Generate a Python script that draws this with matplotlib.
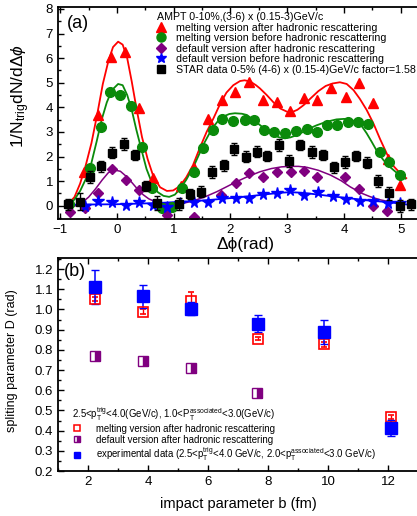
import matplotlib
matplotlib.use("Agg")
import matplotlib.pyplot as plt
from matplotlib.lines import Line2D
from matplotlib.ticker import MultipleLocator

plt.rcParams["font.family"] = ["Liberation Sans", "DejaVu Sans"]
plt.rcParams["mathtext.fontset"] = "custom"
plt.rcParams["mathtext.rm"] = "Liberation Sans"
plt.rcParams["mathtext.it"] = "Liberation Sans:italic"
plt.rcParams["mathtext.fallback"] = "stixsans"

# ---------------------------------------------------------------------------
# (a) dihadron correlations
# ---------------------------------------------------------------------------
melt_after_x = [-0.59, -0.33, -0.11, 0.14, 0.38, 0.63, 1.12, 1.35, 1.60, 1.85, 2.08, 2.33,
                2.58, 2.82, 3.05, 3.30, 3.53, 3.78, 4.03, 4.27, 4.52, 4.77, 4.99]
melt_after_y = [1.38, 3.69, 6.04, 6.26, 3.96, 1.13, 0.80, 1.54, 3.53, 4.30, 4.63, 5.02,
                4.30, 4.21, 3.87, 4.37, 4.28, 4.77, 4.43, 4.97, 4.17, 1.90, 0.86]

melt_before_x = [-0.85, -0.48, -0.29, -0.12, 0.05, 0.24, 0.44, 0.62, 0.80, 0.97, 1.14, 1.35,
                 1.52, 1.70, 1.86, 2.05, 2.25, 2.42, 2.60, 2.77, 2.96, 3.16, 3.35, 3.52,
                 3.70, 3.87, 4.07, 4.25, 4.42, 4.63, 4.80, 4.99]
melt_before_y = [0.06, 1.52, 3.19, 4.63, 4.50, 4.05, 2.37, 0.71, -0.08, -0.05, 0.71, 1.38,
                 2.33, 3.08, 3.51, 3.44, 3.48, 3.48, 3.08, 3.01, 2.94, 3.05, 3.12, 3.01,
                 3.28, 3.28, 3.41, 3.41, 3.31, 2.20, 1.79, 1.25]

def_after_x = [-0.83, -0.57, -0.33, -0.09, 0.16, 0.39, 0.89, 1.36, 1.84, 2.10, 2.33, 2.58,
               2.82, 3.06, 3.30, 3.53, 4.02, 4.27, 4.51, 4.76]
def_after_y = [-0.26, -0.08, 0.51, 1.50, 1.06, 0.62, -0.37, -0.44, 0.45, 0.91, 1.33, 1.16,
               1.37, 1.37, 1.42, 1.17, 1.17, 0.69, 0.00, -0.21]

def_before_x = [-0.56, -0.33, -0.09, 0.16, 0.39, 0.63, 0.88, 1.11, 1.36, 1.61, 1.85, 2.09,
                2.33, 2.58, 2.82, 3.05, 3.30, 3.54, 3.80, 4.03, 4.28, 4.52, 4.77, 4.99]
def_before_y = [-0.03, 0.18, 0.14, 0.01, 0.14, 0.04, -0.05, 0.10, 0.14, 0.17, 0.30, 0.32,
                0.32, 0.48, 0.53, 0.63, 0.45, 0.55, 0.41, 0.28, 0.18, 0.18, 0.12, 0.10]

star_x = [-0.86, -0.66, -0.48, -0.28, -0.08, 0.12, 0.32, 0.51, 0.71, 1.09, 1.29, 1.48, 1.67,
          1.88, 2.07, 2.27, 2.46, 2.65, 2.85, 3.04, 3.23, 3.43, 3.63, 3.82, 4.02, 4.21,
          4.40, 4.61, 4.80, 4.99, 5.18]
star_y = [0.05, 0.17, 1.18, 1.60, 2.16, 2.52, 2.06, 0.80, 0.12, 0.07, 0.48, 0.57, 1.38,
          1.65, 2.29, 2.00, 2.20, 2.02, 2.47, 1.83, 2.47, 2.20, 2.06, 1.56, 1.79, 2.02,
          1.75, 1.02, 0.50, 0.00, 0.06]
star_err = [0.22, 0.33, 0.24, 0.22, 0.22, 0.24, 0.22, 0.22, 0.28, 0.25, 0.22, 0.22, 0.24,
            0.22, 0.24, 0.22, 0.22, 0.22, 0.24, 0.24, 0.22, 0.24, 0.22, 0.22, 0.24, 0.22,
            0.22, 0.24, 0.26, 0.24, 0.22]

# fit curves
red_fit_x = [-0.87, -0.75, -0.65, -0.55, -0.45, -0.35, -0.25, -0.15, -0.07, 0.02, 0.10, 0.18,
             0.26, 0.34, 0.44, 0.54, 0.64, 0.76, 0.88, 0.99, 1.11, 1.22, 1.34, 1.46, 1.58,
             1.70, 1.82, 1.93, 2.05, 2.17, 2.25, 2.35, 2.45, 2.52, 2.64, 2.76, 2.88, 3.00,
             3.08, 3.18, 3.29, 3.42, 3.55, 3.68, 3.80, 3.93, 4.05, 4.17, 4.28, 4.40, 4.52,
             4.64, 4.76, 4.88, 5.00, 5.10]
red_fit_y = [0.05, 0.35, 0.90, 1.65, 2.55, 3.70, 4.95, 5.90, 6.45, 6.67, 6.55, 6.00,
             5.05, 4.00, 2.80, 1.90, 1.20, 0.75, 0.60, 0.62, 0.80, 1.15, 1.65, 2.35, 3.00,
             3.55, 4.15, 4.60, 4.90, 5.07, 5.10, 5.05, 4.90, 4.77, 4.50, 4.20, 3.95, 3.82,
             3.80, 3.90, 4.09, 4.38, 4.66, 4.87, 4.97, 5.02, 4.95, 4.70, 4.35, 3.90, 3.35,
             2.70, 2.10, 1.60, 1.30, 1.12]

green_fit_x = [-0.87, -0.75, -0.65, -0.53, -0.45, -0.36, -0.27, -0.18, -0.09, 0.02, 0.10,
               0.18, 0.26, 0.34, 0.44, 0.52, 0.62, 0.72, 0.82, 0.92, 1.02, 1.11, 1.22, 1.35,
               1.45, 1.52, 1.62, 1.70, 1.80, 1.87, 1.98, 2.08, 2.20, 2.29, 2.40, 2.52, 2.64,
               2.76, 2.86, 2.96, 3.06, 3.17, 3.28, 3.40, 3.52, 3.64, 3.76, 3.87, 4.00, 4.11,
               4.22, 4.32, 4.40, 4.49, 4.60, 4.70, 4.80, 4.90, 5.00, 5.08]
green_fit_y = [0.02, 0.25, 0.60, 1.18, 1.75, 2.60, 3.50, 4.20, 4.70, 4.95, 4.90,
               4.50, 3.90, 3.10, 2.20, 1.50, 0.90, 0.55, 0.40, 0.36, 0.45, 0.68, 1.05, 1.59,
               2.10, 2.47, 2.90, 3.21, 3.50, 3.62, 3.73, 3.76, 3.74, 3.69, 3.50, 3.28, 3.05,
               2.87, 2.78, 2.74, 2.78, 2.87, 3.00, 3.15, 3.27, 3.37, 3.45, 3.51, 3.53, 3.51,
               3.40, 3.22, 2.95, 2.60, 2.15, 1.85, 1.60, 1.40, 1.22, 1.10]

purple_fit_x = [-0.87, -0.75, -0.62, -0.50, -0.38, -0.26, -0.15, -0.04, 0.06, 0.16, 0.26,
                0.36, 0.46, 0.56, 0.68, 0.80, 0.95, 1.17, 1.35, 1.55, 1.76, 1.94, 2.11,
                2.30, 2.52, 2.72, 2.90, 3.05, 3.20, 3.35, 3.55, 3.76, 3.95, 4.11, 4.30,
                4.46, 4.64, 4.81, 5.05]
purple_fit_y = [-0.08, -0.02, 0.12, 0.35, 0.68, 1.05, 1.35, 1.45, 1.40, 1.20, 0.95,
                0.68, 0.45, 0.28, 0.16, 0.10, 0.07, 0.10, 0.20, 0.36, 0.57, 0.78, 0.98,
                1.18, 1.38, 1.51, 1.58, 1.60, 1.60, 1.56, 1.44, 1.25, 1.02, 0.77, 0.52,
                0.37, 0.24, 0.16, 0.10]

blue_fit_x = [-0.87, -0.5, 0.0, 0.3, 0.58, 0.9, 1.2, 1.5, 1.76, 2.05, 2.35, 2.65, 2.90,
              3.05, 3.25, 3.52, 3.80, 4.11, 4.40, 4.70, 4.95, 5.11]
blue_fit_y = [0.04, 0.05, 0.06, 0.08, 0.10, 0.13, 0.17, 0.21, 0.26, 0.32, 0.39, 0.47, 0.53,
              0.55, 0.53, 0.46, 0.38, 0.30, 0.22, 0.16, 0.10, 0.05]

# ---------------------------------------------------------------------------
# (b) splitting parameter vs impact parameter
# ---------------------------------------------------------------------------
b_melt = [2.23, 3.84, 5.42, 7.66, 9.88, 12.09]
D_melt = [1.050, 0.988, 1.041, 0.856, 0.828, 0.466]
D_melt_err = [0.010, 0.012, 0.045, 0.008, 0.012, 0.010]

b_def = [2.23, 3.84, 5.42, 7.62]
D_def = [0.770, 0.744, 0.711, 0.587]
D_def_err = [0.008, 0.010, 0.015, 0.008]

b_exp = [2.23, 3.84, 5.42, 7.66, 9.88, 12.09]
D_exp = [1.112, 1.066, 1.004, 0.929, 0.890, 0.414]
D_exp_err = [0.083, 0.057, 0.032, 0.043, 0.060, 0.040]

RED, GREEN, PURPLE, BLUE = "#ff0000", "#0a8a0a", "#800080", "#0000ff"

W, H = 417, 516
fig = plt.figure(figsize=(W / 100, H / 100), dpi=100)


def px_axes(left, top, right, bottom):
    return fig.add_axes([left / W, 1 - bottom / H, (right - left) / W, (bottom - top) / H])


def style_axes(ax):
    for s in ax.spines.values():
        s.set_linewidth(1.3)
    ax.spines["right"].set_visible(False)
    ax.tick_params(which="both", direction="in", top=True, right=False, width=1.0,
                   labelsize=9.5)
    ax.tick_params(which="major", length=4.5)
    ax.tick_params(which="minor", length=2.5)


# ---- panel (a)
ax1 = px_axes(58, 7, 425, 219)
style_axes(ax1)

ax1.plot(red_fit_x, red_fit_y, color=RED, lw=1.3)
ax1.plot(green_fit_x, green_fit_y, color=GREEN, lw=1.3)
ax1.plot(purple_fit_x, purple_fit_y, color=PURPLE, lw=1.1)
ax1.plot(blue_fit_x, blue_fit_y, color=BLUE, lw=1.3)

ax1.plot(melt_after_x, melt_after_y, "^", color=RED, ms=7.5, mec=RED)
ax1.plot(melt_before_x, melt_before_y, "o", color=GREEN, ms=7, mec=GREEN)
ax1.plot(def_after_x, def_after_y, "D", color=PURPLE, ms=5.5, mec=PURPLE)
ax1.plot(def_before_x, def_before_y, "*", color=BLUE, ms=8.5, mec=BLUE)
ax1.errorbar(star_x, star_y, yerr=star_err, fmt="s", color="black", ms=6,
             ecolor="black", elinewidth=1.0, capsize=2.5, capthick=1.0)

ax1.set_xlim(-1.04, 5.43)
ax1.set_ylim(-0.54, 8.08)
ax1.xaxis.set_major_locator(MultipleLocator(1))
ax1.xaxis.set_minor_locator(MultipleLocator(0.5))
ax1.yaxis.set_major_locator(MultipleLocator(1))
ax1.yaxis.set_minor_locator(MultipleLocator(0.5))
ax1.set_xticks(range(-1, 6))

ax1.set_xlabel("Δϕ(rad)", fontsize=12.5)
ax1.xaxis.set_label_coords(0.512, -0.085)
ax1.set_ylabel(r"1/N$_{\mathrm{trig}}$dN/d$\Delta\phi$", fontsize=12.5)
ax1.yaxis.set_label_coords(-0.072, 0.58)
ax1.text(67 / W, 1 - 24 / H, "(a)", transform=fig.transFigure, fontsize=13,
         va="center", ha="left")

handles_a = [
    Line2D([], [], ls="none", marker="^", color=RED, ms=6.5),
    Line2D([], [], ls="none", marker="o", color=GREEN, ms=6.5),
    Line2D([], [], ls="none", marker="D", color=PURPLE, ms=5),
    Line2D([], [], ls="none", marker="*", color=BLUE, ms=7.5),
    Line2D([], [], ls="none", marker="s", color="black", ms=5.5),
]
labels_a = [
    "melting version after hadronic rescattering",
    "melting version before hadronic rescattering",
    "default version after hadronic rescattering",
    "default version before hadronic rescattering",
    "STAR data 0-5% (4-6) x (0.15-4)GeV/c factor=1.58",
]
leg_a = ax1.legend(handles_a, labels_a, title="AMPT 0-10%,(3-6) x (0.15-3)GeV/c",
                   loc="upper left", bbox_to_anchor=(157 / W, 1 - 12 / H),
                   bbox_transform=fig.transFigure, frameon=False, fontsize=7.7,
                   title_fontsize=7.7, alignment="left", borderpad=0, borderaxespad=0,
                   handlelength=0.8, handletextpad=1.0, labelspacing=0.05)

# ---- panel (b)
ax2 = px_axes(58, 258, 425, 471)
style_axes(ax2)

ax2.errorbar(b_melt, D_melt, yerr=D_melt_err, fmt="s", ms=7.5, mfc="none", mec=RED,
             mew=1.2, ecolor=RED, elinewidth=1.0, capsize=2.5)
ax2.errorbar(b_def, D_def, yerr=D_def_err, fmt="s", ms=7, color=PURPLE, mec=PURPLE,
             fillstyle="right", mfcalt="white", ecolor=PURPLE, elinewidth=1.0, capsize=2)
ax2.errorbar(b_exp, D_exp, yerr=D_exp_err, fmt="s", ms=8, color=BLUE, mec=BLUE,
             ecolor=BLUE, elinewidth=1.1, capsize=3)

ax2.set_xlim(1.0, 13.23)
ax2.set_ylim(0.2, 1.255)
ax2.set_xticks([2, 4, 6, 8, 10, 12])
ax2.xaxis.set_minor_locator(MultipleLocator(1))
ax2.yaxis.set_major_locator(MultipleLocator(0.1))
ax2.yaxis.set_minor_locator(MultipleLocator(0.05))
ax2.yaxis.set_major_formatter(matplotlib.ticker.FormatStrFormatter("%.1f"))

ax2.set_xlabel("impact parameter b (fm)", fontsize=10.5)
ax2.xaxis.set_label_coords(0.492, -0.12)
ax2.set_ylabel("spliting parameter D (rad)", fontsize=9)
ax2.yaxis.set_label_coords(-0.108, 0.52)
ax2.text(64 / W, 1 - 272 / H, "(b)", transform=fig.transFigure, fontsize=13,
         va="center", ha="left")

handles_b = [
    Line2D([], [], ls="none", marker="s", mfc="none", mec=RED, mew=1.1, ms=5),
    Line2D([], [], ls="none", marker="s", color=PURPLE, fillstyle="right",
           markerfacecoloralt="white", ms=5),
    Line2D([], [], ls="none", marker="s", color=BLUE, ms=5),
]
labels_b = [
    "melting version after hadronic rescattering",
    "default version after hadronic rescattering",
    r"experimental data (2.5<p$_\mathrm{T}^\mathrm{trig}$<4.0 GeV/c, "
    r"2.0<p$_\mathrm{T}^\mathrm{associated}$<3.0 GeV/c)",
]
leg_b = ax2.legend(handles_b, labels_b,
                   title=r"2.5<p$_\mathrm{T}^\mathrm{trig}$<4.0(GeV/c), "
                         r"1.0<P$_\mathrm{T}^\mathrm{associated}$<3.0(GeV/c)",
                   loc="upper left", bbox_to_anchor=(72 / W, 1 - 405 / H),
                   bbox_transform=fig.transFigure, frameon=False, fontsize=6.9,
                   title_fontsize=6.9, alignment="left", borderpad=0, borderaxespad=0,
                   handlelength=1.1, handletextpad=1.4, labelspacing=0.1)

fig.savefig("out.png", dpi=100)
